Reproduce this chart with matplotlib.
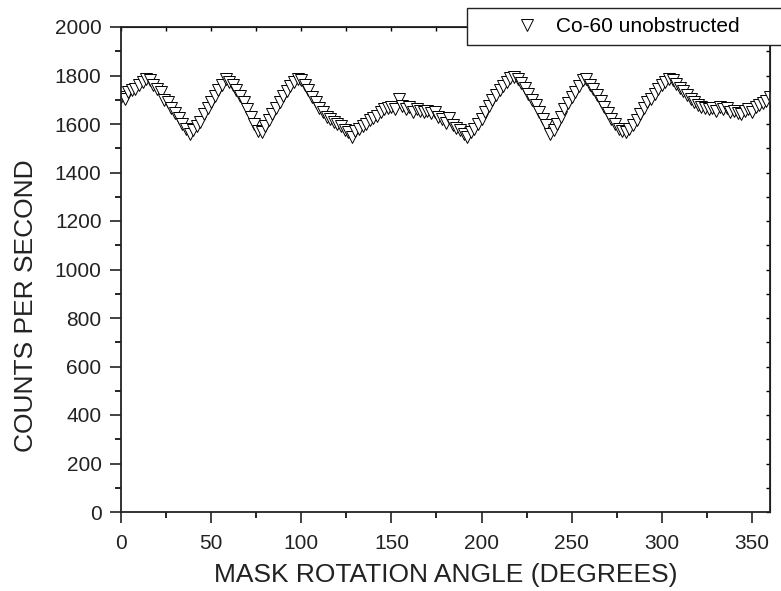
import numpy as np
import matplotlib.pyplot as plt
from matplotlib.patches import Rectangle
from matplotlib.ticker import MultipleLocator, NullFormatter

plt.rcParams['font.family'] = ['Liberation Sans', 'DejaVu Sans']

# mask rotation angle, 2 degree steps
angles = np.arange(0, 361, 2)
counts = [
    1710, 1705, 1730, 1740, 1745, 1760, 1775, 1785, 1780, 1760,
    1745, 1730, 1700, 1690, 1665, 1645, 1625, 1600, 1580, 1560,
    1575, 1590, 1610, 1640, 1665, 1690, 1715, 1740, 1760, 1785,
    1775, 1760, 1740, 1715, 1690, 1660, 1630, 1600, 1570, 1565,
    1590, 1615, 1640, 1665, 1690, 1715, 1735, 1755, 1775, 1785,
    1780, 1760, 1740, 1710, 1690, 1665, 1650, 1630, 1620, 1610,
    1600, 1590, 1575, 1565, 1545, 1570, 1580, 1590, 1600, 1615,
    1625, 1635, 1650, 1660, 1665, 1670, 1660, 1705, 1675, 1660,
    1670, 1650, 1660, 1655, 1650, 1655, 1645, 1650, 1630, 1620,
    1605, 1625, 1595, 1585, 1575, 1560, 1545, 1565, 1580, 1600,
    1620, 1650, 1675, 1700, 1720, 1740, 1755, 1775, 1790, 1795,
    1785, 1770, 1750, 1725, 1700, 1680, 1650, 1620, 1595, 1560,
    1575, 1600, 1630, 1660, 1685, 1710, 1730, 1755, 1780, 1785,
    1760, 1745, 1720, 1695, 1670, 1645, 1620, 1600, 1580, 1570,
    1565, 1580, 1595, 1615, 1640, 1665, 1690, 1705, 1725, 1745,
    1760, 1775, 1785, 1780, 1765, 1750, 1735, 1720, 1705, 1690,
    1680, 1670, 1665, 1660, 1665, 1655, 1670, 1660, 1665, 1650,
    1655, 1645, 1640, 1655, 1660, 1650, 1670, 1680, 1685, 1695,
    1710,
]

fig = plt.figure(figsize=(7.81, 5.91), dpi=100)
ax = fig.add_axes([121/781, 1 - 512/591, (770 - 121)/781, (512 - 27)/591])

line, = ax.plot(angles, counts, linestyle='none', marker='v', markersize=8.5,
                markerfacecolor='white', markeredgecolor='black', markeredgewidth=0.7,
                label='Co-60 unobstructed')

ax.set_xlim(0, 360)
ax.set_ylim(0, 2000)
ax.xaxis.set_major_locator(MultipleLocator(50))
ax.xaxis.set_minor_locator(MultipleLocator(25))
ax.yaxis.set_major_locator(MultipleLocator(200))
ax.yaxis.set_minor_locator(MultipleLocator(100))
ax.tick_params(which='major', direction='out', length=8, width=1.2, labelsize=15,
               colors='#222222')
ax.tick_params(axis='x', which='major', pad=8)
ax.tick_params(axis='y', which='major', pad=6)
ax.tick_params(which='minor', direction='out', length=4, width=1.2)
for s in ax.spines.values():
    s.set_linewidth(1.3)
    s.set_color('#222222')

# small inward ticks on the top and right sides
top = ax.secondary_xaxis('top')
top.xaxis.set_major_locator(MultipleLocator(25))
top.xaxis.set_major_formatter(NullFormatter())
top.tick_params(direction='in', length=3, width=1.0)
right = ax.secondary_yaxis('right')
right.yaxis.set_major_locator(MultipleLocator(100))
right.yaxis.set_major_formatter(NullFormatter())
right.tick_params(direction='in', length=3, width=1.0)

ax.set_xlabel('MASK ROTATION ANGLE (DEGREES)', fontsize=19, labelpad=7, color='#222222')
ax.set_ylabel('COUNTS PER SECOND', fontsize=19, color='#222222')
ax.yaxis.set_label_coords(-0.128, 0.425)

# legend box runs off the right edge of the figure
fig.patches.append(Rectangle((467/781, 1 - 45/591), 0.5, 37/591, transform=fig.transFigure,
                             facecolor='white', edgecolor='#222222', linewidth=1.0, zorder=5))
leg = fig.legend(handles=[line], loc='center left', bbox_to_anchor=(502/781, 1 - 27/591),
                 frameon=False, fontsize=15, handlelength=1.6, handletextpad=0.6,
                 borderaxespad=0)
leg.set_zorder(6)

fig.savefig('out.png', dpi=100)
